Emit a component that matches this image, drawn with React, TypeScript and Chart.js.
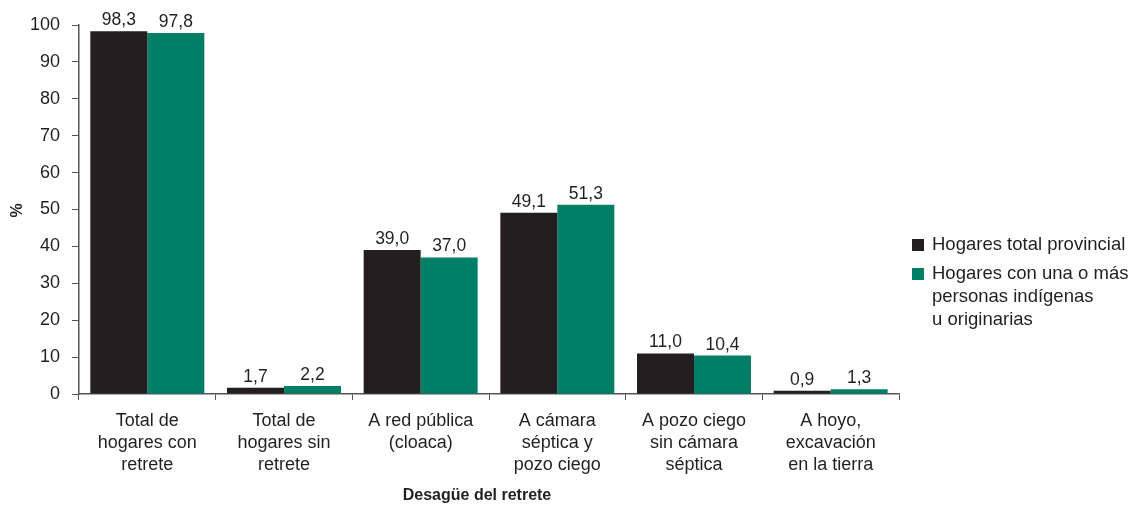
import React, { useEffect, useRef } from "react";
import { Chart, registerables } from "chart.js";

Chart.register(...registerables);

const categories: string[][] = [
  ["Total de", "hogares con", "retrete"],
  ["Total de", "hogares sin", "retrete"],
  ["A red pública", "(cloaca)"],
  ["A cámara", "séptica y", "pozo ciego"],
  ["A pozo ciego", "sin cámara", "séptica"],
  ["A hoyo,", "excavación", "en la tierra"],
];
const provincial: number[] = [98.3, 1.7, 39.0, 49.1, 11.0, 0.9];
const indigenas: number[] = [97.8, 2.2, 37.0, 51.3, 10.4, 1.3];
const seriesNames: string[][] = [
  ["Hogares total provincial"],
  ["Hogares con una o más", "personas indígenas", "u originarias"],
];
const yTitle = "%";
const xTitle = "Desagüe del retrete";

const FONT = "'Liberation Sans', Arial, Helvetica, sans-serif";
const TEXT = "#231f20";
const AXIS = "#555555";
const COLORS = ["#231f20", "#007f66"];

const fmt = (v: number) => v.toFixed(1).replace(".", ",");

const valueLabels = {
  id: "valueLabels",
  afterDatasetsDraw(chart: any) {
    const ctx = chart.ctx;
    ctx.save();
    ctx.font = `17.5px ${FONT}`;
    ctx.fillStyle = TEXT;
    ctx.textAlign = "center";
    ctx.textBaseline = "alphabetic";
    chart.data.datasets.forEach((ds: any, i: number) => {
      const meta = chart.getDatasetMeta(i);
      meta.data.forEach((bar: any, j: number) => {
        ctx.fillText(fmt(ds.data[j]), bar.x, bar.y - 6);
      });
    });
    ctx.restore();
  },
};

const extras = {
  id: "extras",
  afterDraw(chart: any) {
    const ctx = chart.ctx;
    const area = chart.chartArea;
    ctx.save();
    // legend
    const x0 = area.right + 13;
    const tops = [245, 274];
    ctx.font = `18.5px ${FONT}`;
    ctx.textBaseline = "middle";
    ctx.textAlign = "left";
    seriesNames.forEach((lines, i) => {
      ctx.fillStyle = COLORS[i];
      ctx.fillRect(x0, tops[i] - 6, 12, 12);
      ctx.fillStyle = TEXT;
      lines.forEach((ln, k) => {
        ctx.fillText(ln, x0 + 20, tops[i] + k * 23);
      });
    });
    // axis titles
    ctx.fillStyle = TEXT;
    ctx.font = `bold 16px ${FONT}`;
    ctx.textAlign = "center";
    ctx.textBaseline = "middle";
    ctx.fillText(xTitle, area.left + (area.right - area.left) / 2 - 12, 496);
    ctx.translate(18, (area.top + area.bottom) / 2 + 1);
    ctx.rotate(-Math.PI / 2);
    ctx.fillText(yTitle, 0, 0);
    ctx.restore();
  },
};

export default function App() {
  const ref = useRef<HTMLCanvasElement>(null);
  useEffect(() => {
    if (!ref.current) return;
    const chart = new Chart(ref.current, {
      type: "bar",
      data: {
        labels: categories,
        datasets: [
          {
            label: seriesNames[0].join(" "),
            data: provincial,
            backgroundColor: COLORS[0],
            categoryPercentage: 0.834,
            barPercentage: 1,
          },
          {
            label: seriesNames[1].join(" "),
            data: indigenas,
            backgroundColor: COLORS[1],
            categoryPercentage: 0.834,
            barPercentage: 1,
          },
        ],
      },
      options: {
        animation: false,
        responsive: false,
        maintainAspectRatio: false,
        layout: { padding: { top: 25, right: 243, left: 0, bottom: 0 } },
        plugins: {
          legend: { display: false },
          tooltip: { enabled: false },
        },
        scales: {
          x: {
            grid: {
              display: true,
              drawOnChartArea: false,
              drawTicks: true,
              tickLength: 6,
              offset: true,
              color: AXIS,
            },
            border: { display: true, color: AXIS, width: 1.5 },
            ticks: {
              color: TEXT,
              font: { family: FONT, size: 18, lineHeight: 1.23 },
              padding: 10,
              maxRotation: 0,
              autoSkip: false,
            },
            afterFit(scale: any) {
              scale.height = 113;
            },
          },
          y: {
            min: 0,
            max: 100,
            ticks: {
              stepSize: 10,
              color: TEXT,
              font: { family: FONT, size: 18 },
              padding: 12,
            },
            grid: {
              display: true,
              drawOnChartArea: false,
              drawTicks: true,
              tickLength: 7,
              color: AXIS,
            },
            border: { display: true, color: AXIS, width: 1.5 },
            afterFit(scale: any) {
              scale.width = 79;
            },
          },
        },
      },
      plugins: [valueLabels, extras],
    });
    return () => chart.destroy();
  }, []);
  return (
    <div style={{ position: "fixed", left: 0, top: 0, width: 1142, height: 507, background: "#fff" }}>
      <canvas ref={ref} width={1142} height={507} style={{ width: 1142, height: 507 }} />
    </div>
  );
}
